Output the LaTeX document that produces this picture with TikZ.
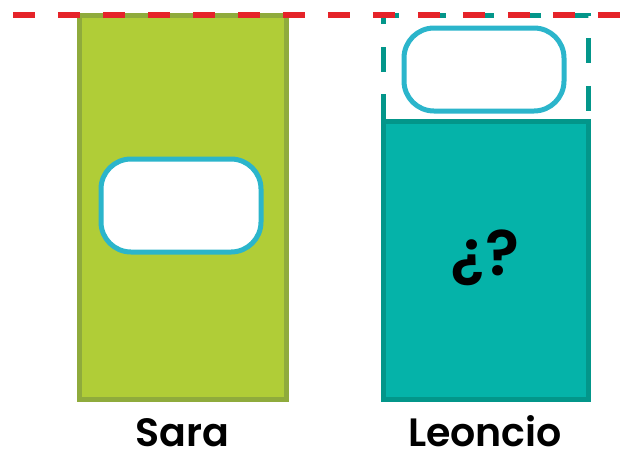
\documentclass[tikz,border=0pt]{standalone}
\usepackage{fontspec}
\setmainfont{Poppins}[BoldFont={Poppins SemiBold}]
\usepackage{tikz}
\usetikzlibrary{positioning}
\definecolor{oliva}{HTML}{B0CD37}
\definecolor{olivascuro}{HTML}{8FAB3C}
\definecolor{verdeacqua}{HTML}{05B3A9}
\definecolor{verdeacquascuro}{HTML}{03968A}
\definecolor{ciano}{HTML}{2BB5CB}
\definecolor{rosso}{HTML}{E52329}

\begin{document}
\begin{tikzpicture}[x=0.02cm, y=-0.02cm,
    etichetta/.style={font=\fontsize{22.5}{22.5}\selectfont\bfseries, text=black,
        inner sep=0pt, text depth=0pt, anchor=base},
    riquadro/.style={draw=ciano, line width=0.1cm, fill=white, rounded corners=0.6cm}]
    \useasboundingbox (0,0) rectangle (635,454);

    % Barra di Sara
    \fill[oliva, draw=olivascuro, line width=0.1cm] (79,15) rectangle (286,399);
    \draw[riquadro] (101,159) rectangle (261,252);

    % Barra di Leoncio
    \fill[verdeacqua, draw=verdeacquascuro, line width=0.1cm] (383,121) rectangle (588,399);
    \draw[verdeacquascuro, line width=0.1cm, dash pattern=on 0.5cm off 0.45cm]
        (383,119) -- (383,15) -- (588,15) -- (588,119);
    \draw[riquadro] (404,28) rectangle (564,111);
    \node[font=\fontsize{36}{36}\selectfont\bfseries] (domanda) at (485,258) {¿?};

    % Linea tratteggiata in alto
    \draw[rosso, line width=0.12cm, dash pattern=on 0.44cm off 0.46cm] (13,15) -- (622,15);

    % Nomi
    \node[etichetta] (sara) at (182,446) {Sara};
    \node[etichetta] (leoncio) at (485,446) {Leoncio};
\end{tikzpicture}
\end{document}
